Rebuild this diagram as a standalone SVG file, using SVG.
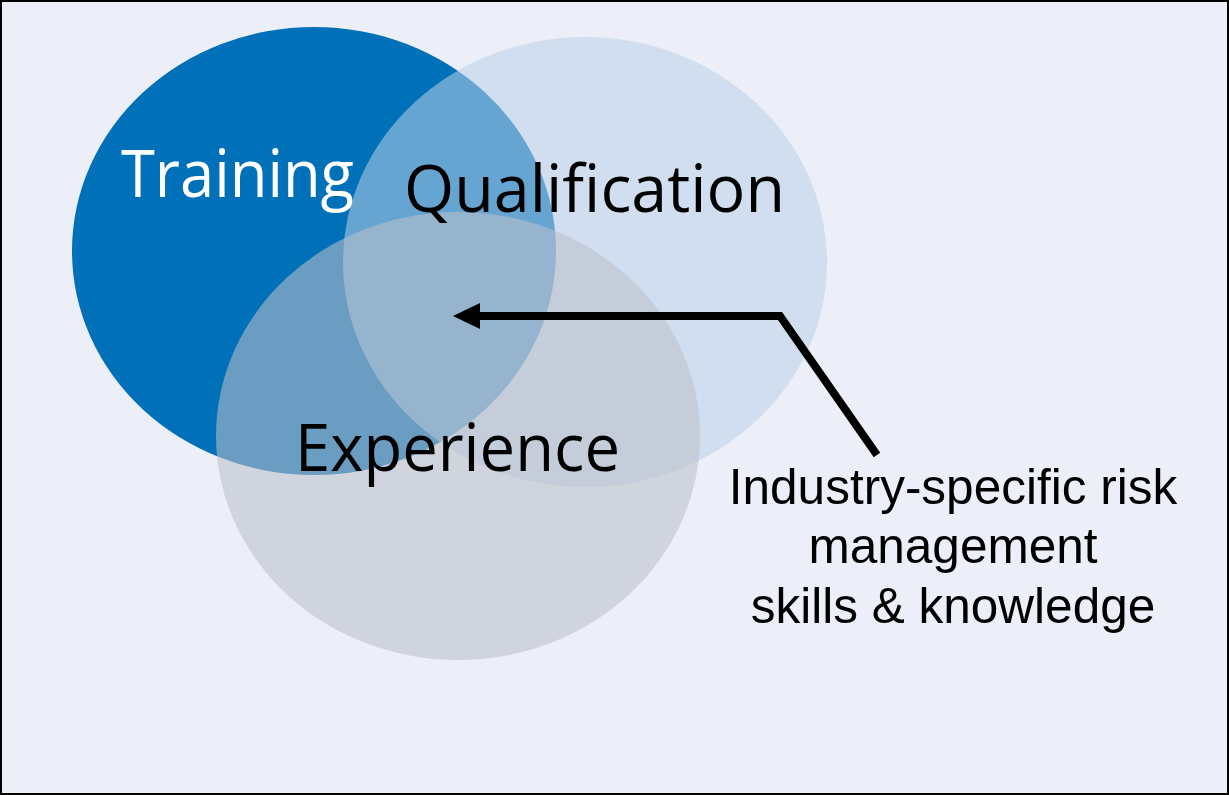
<svg xmlns="http://www.w3.org/2000/svg" width="1229" height="795" viewBox="0 0 1229 795">
<defs>
<style>
.lbl{font-family:"Open Sans","Noto Sans",sans-serif;font-size:65px;}
.note{font-family:"Liberation Sans",Arial,sans-serif;font-size:49.5px;fill:#000;text-anchor:middle;}
</style>
<marker id="ah" markerUnits="userSpaceOnUse" markerWidth="30" markerHeight="30" refX="0" refY="13" orient="auto">
<path d="M0,0 L27,13 L0,26 Z" fill="#000"/>
</marker>
</defs>
<rect x="1" y="1" width="1227" height="793" fill="#ECEFF8" stroke="#000" stroke-width="2"/>
<g id="training">
<ellipse cx="314" cy="251" rx="242" ry="224" fill="#0070B8"/>
</g>
<g id="qualification">
<ellipse cx="585" cy="262" rx="242" ry="225" fill="rgb(185,208,232)" fill-opacity="0.55"/>
</g>
<g id="experience">
<ellipse cx="458" cy="436" rx="242" ry="224" fill="rgb(186,192,200)" fill-opacity="0.57"/>
</g>
<g id="labels">
<text class="lbl" x="121" y="197" fill="#fff" textLength="233" lengthAdjust="spacingAndGlyphs">Training</text>
<text class="lbl" x="404" y="212" fill="#000" textLength="381" lengthAdjust="spacingAndGlyphs">Qualification</text>
<text class="lbl" x="295" y="471" fill="#000" textLength="325" lengthAdjust="spacingAndGlyphs">Experience</text>
</g>
<g id="connectors">
<polyline points="877,455 780,316 480,316" fill="none" stroke="#000" stroke-width="8" stroke-linejoin="miter" marker-end="url(#ah)"/>
</g>
<g id="note">
<text class="note" x="953" y="504">Industry-specific risk</text>
<text class="note" x="953" y="563">management</text>
<text class="note" x="953" y="623">skills &amp; knowledge</text>
</g>
</svg>
